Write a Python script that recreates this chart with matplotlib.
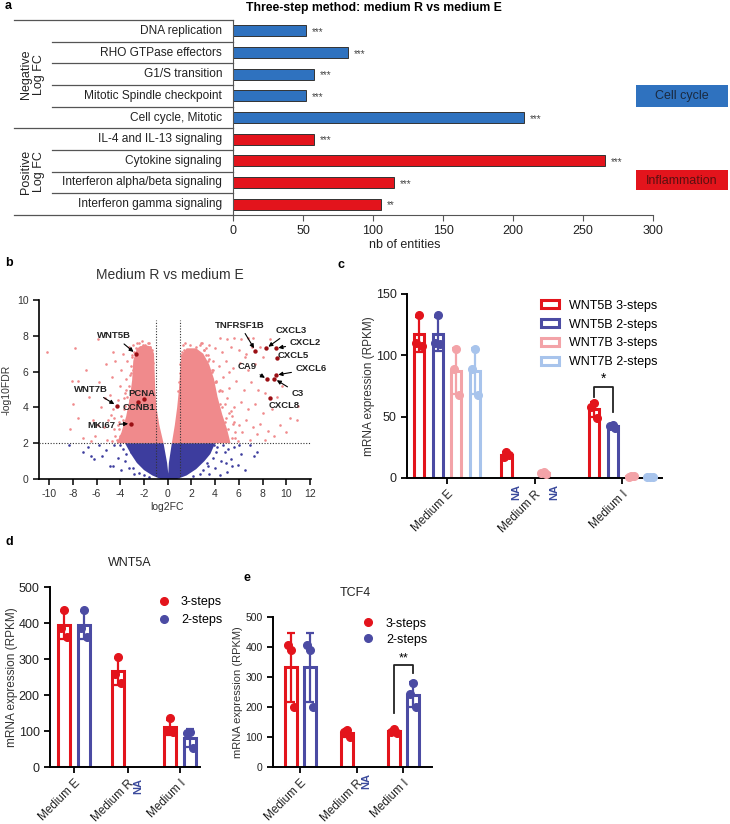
import numpy as np
import matplotlib
matplotlib.use('Agg')
import matplotlib.pyplot as plt
import matplotlib.transforms as mtransforms
from matplotlib.patches import Patch, Rectangle
from matplotlib.lines import Line2D

plt.rcParams['font.family'] = ['Liberation Sans', 'DejaVu Sans']
plt.rcParams['axes.unicode_minus'] = False

# ---------------- data: panel a (pathways)
path_names = ['DNA replication', 'RHO GTPase effectors', 'G1/S transition',
              'Mitotic Spindle checkpoint', 'Cell cycle, Mitotic',
              'IL-4 and IL-13 signaling', 'Cytokine signaling',
              'Interferon alpha/beta signaling', 'Interferon gamma signaling']
path_counts = [52, 82, 58, 52, 208, 58, 266, 115, 106]
path_stars = ['***'] * 8 + ['**']
path_sign = ['neg'] * 5 + ['pos'] * 4

# ---------------- data: panel b (volcano)
# dense cores (outlines of the solid clouds)
left_core_x = [-0.35, -0.7, -0.95, -1.05, -1.1, -1.15, -1.4, -2.0, -2.6, -2.9,
               -3.0, -3.2, -3.5, -3.9, -4.3]
left_core_y = [2.0, 3.0, 4.0, 5.0, 6.0, 7.0, 7.4, 7.5, 7.3, 6.6,
               5.5, 4.5, 3.5, 2.6, 2.0]
right_core_x = [0.35, 0.6, 0.8, 0.95, 1.05, 1.15, 1.6, 2.4, 3.0, 3.5,
                3.9, 4.2, 4.6, 5.0, 5.3]
right_core_y = [2.0, 3.0, 4.0, 5.0, 6.0, 6.9, 7.3, 7.3, 7.0, 6.4,
                5.6, 4.6, 3.6, 2.8, 2.0]
blue_core_x = [-3.6, -3.1, -2.6, -2.0, -1.3, -0.6, 0.8, 1.6, 2.4, 3.1,
               3.6, 4.0, 0.35, 0.1, 0.05, -0.05, -0.35]
blue_core_y = [2.0, 1.4, 0.9, 0.5, 0.2, 0.0, 0.0, 0.2, 0.55, 1.0,
               1.4, 2.0, 2.0, 0.9, 0.3, 0.9, 2.0]

pink_x = [-10.2, -7.8, -5.9, -8.1, -7.6, -8.0, -8.2, -7.6, -6.9, -6.6, -6.3, -6.1,
          -5.8, -5.6, -5.4, -5.2, -5.1, -4.9, -4.8, -4.7, -4.6, -4.5, -4.4, -4.2,
          -4.1, -4.0, -4.0, -3.9, -3.8, -3.7, -3.6, -3.5, -3.5, -3.4, -3.3, -3.3,
          -3.2, -3.2, -3.1, -3.0, -2.9, -2.6, -2.3, -1.9, -1.5, -3.0, -2.9, -3.6,
          -3.8, -4.3, -4.6, -5.0, -5.3, -5.9, -6.5, -7.1, -2.7, -2.4, -2.1, -1.7,
          4.4, 5.0, 5.6, 6.2, 6.8, 7.2, 8.6, 3.5, 4.0, 4.6, 5.3, 6.0,
          6.6, 7.8, 3.2, 3.8, 4.3, 4.9, 5.5, 6.1, 6.8, 7.4, 8.0, 3.6,
          4.1, 4.7, 5.2, 5.8, 6.4, 7.0, 7.6, 8.2, 9.6, 3.9, 4.4, 5.0,
          5.6, 6.2, 6.8, 7.4, 8.0, 8.8, 10.3, 10.9, 11.0, 4.2, 4.8, 5.4,
          6.0, 6.6, 7.2, 7.8, 8.5, 9.5, 4.5, 5.1, 5.7, 6.3, 6.9, 7.5,
          8.2, 9.0, 10.0, 2.8, 2.4, 1.9, 1.4, 3.0, 3.3, 3.6, 4.0, 4.3,
          5.2, 6.5, 7.1, 9.2, 3.4, 3.1, 2.9, 3.7, 4.6, 5.3, 1.1, 1.3,
          -4.4, -4.2, -3.9, -3.6, -3.4, -3.3, -3.2, -3.1, -3.0, -2.8,
          -4.7, -4.5, -4.1, -3.7, -2.2, -1.6, -1.3, -1.25, -2.9, -3.5,
          5.4, 5.7, 5.5, 4.9, 4.6, 4.3, 4.0, 3.7, 3.4, 3.2,
          5.9, 5.6, 5.2, 4.8, 4.4, 4.1, 3.8, 3.5, 3.1, 2.7,
          0.95, 1.0, 1.05, 1.1, 1.2, 0.9, 1.3, 1.5]
pink_y = [7.1, 7.3, 7.8, 5.5, 5.5, 4.2, 2.8, 3.4, 6.1, 4.6, 3.3, 2.4,
          5.4, 4.0, 2.9, 6.4, 2.2, 4.7, 3.6, 5.7, 7.1, 2.8, 6.6, 4.4,
          3.2, 5.2, 2.4, 6.1, 7.0, 3.9, 4.8, 2.2, 5.6, 6.6, 3.5, 7.4,
          4.4, 2.7, 5.9, 6.9, 7.5, 7.6, 7.4, 7.5, 7.4, 3.0, 5.2, 2.9,
          3.3, 2.2, 3.9, 3.3, 4.5, 3.0, 2.1, 2.3, 7.3, 7.6, 7.5, 7.6,
          7.9, 7.8, 7.9, 7.8, 7.9, 7.9, 7.8, 7.5, 7.3, 7.1, 7.4, 7.2,
          7.0, 7.4, 6.9, 6.6, 6.3, 6.6, 6.2, 6.5, 6.1, 6.4, 6.8, 5.8,
          5.4, 5.7, 5.1, 5.5, 5.0, 5.4, 5.0, 4.8, 5.2, 4.6, 4.2, 4.5,
          4.0, 4.3, 3.9, 4.2, 3.7, 3.9, 3.4, 3.3, 4.1, 3.6, 3.2, 3.5,
          3.0, 3.3, 2.9, 3.1, 2.7, 3.0, 2.5, 2.8, 2.3, 2.6, 2.2, 2.5,
          2.2, 2.4, 2.6, 7.6, 7.4, 7.5, 7.2, 6.2, 5.3, 4.1, 3.0, 2.1,
          6.0, 6.8, 7.4, 4.6, 6.9, 7.2, 7.6, 6.1, 4.9, 3.8, 5.6, 6.4,
          2.4, 3.0, 3.5, 4.1, 4.6, 5.2, 5.8, 6.3, 6.8, 7.1,
          2.1, 3.4, 2.8, 4.5, 7.7, 7.6, 7.2, 6.5, 6.1, 5.0,
          2.3, 2.6, 3.1, 3.4, 4.0, 4.9, 5.4, 6.0, 6.6, 7.3,
          2.1, 3.2, 3.7, 4.2, 5.0, 5.5, 6.1, 6.7, 7.2, 7.5,
          5.4, 5.9, 6.4, 6.9, 7.1, 4.9, 7.5, 7.6]
blue_x = [-6.7, -6.2, -4.9, -7.1, -6.5, -5.5, -4.6, -5.8, -5.2, -4.5, -4.2, -3.9,
          -3.8, -3.6, -3.3, -3.1, -2.8, -8.3, -4.0, -3.5,
          3.8, 4.0, 4.2, 4.5, 4.8, 5.0, 5.3, 5.6, 5.9, 6.2, 6.5, 6.9,
          7.3, 7.5, 3.5, 4.4, 3.9, 4.7, 5.4, 3.3, 6.0, 4.1, 4.9, 5.1,
          -2.9, -2.4, -2.0, -1.6, 2.1, 2.7, 3.0, 3.4]
blue_y = [1.8, 1.1, 0.7, 1.5, 1.3, 1.3, 0.7, 1.9, 1.6, 1.9, 1.2, 0.5,
          1.7, 1.0, 0.6, 1.5, 0.3, 1.9, 1.9, 1.4,
          1.2, 0.6, 1.8, 1.0, 1.5, 0.4, 1.1, 1.8, 0.8, 1.4, 0.5, 1.9,
          1.3, 1.5, 0.3, 0.2, 1.9, 1.9, 0.7, 0.9, 1.9, 1.5, 0.9, 1.7,
          0.6, 0.35, 0.2, 0.1, 0.15, 0.3, 0.5, 0.7]

genes = ['WNT5B', 'WNT7B', 'MKI67', 'PCNA', 'CCNB1', 'TNFRSF1B', 'CXCL3',
         'CXCL2', 'CXCL5', 'CXCL6', 'CA9', 'C3', 'CXCL8']
gene_fc = [-2.7, -4.3, -3.1, -2.0, -2.5, 7.4, 8.3, 9.1, 9.2, 9.1, 8.4, 9.0, 8.6]
gene_fdr = [7.0, 4.1, 3.1, 4.45, 4.3, 7.17, 7.3, 7.3, 6.75, 5.8, 5.57, 5.6, 4.5]
gene_text_x = [-4.5, -6.5, -5.6, -2.2, -2.4, 6.1, 10.4, 11.6, 10.6, 12.1, 6.7, 10.95, 9.85]
gene_text_y = [8.0, 5.0, 3.0, 4.8, 3.97, 8.6, 8.3, 7.6, 6.9, 6.15, 6.27, 4.8, 4.13]
gene_arrow = [True, True, True, False, False, True, True, True, False, True, True, True, False]

# ---------------- data: panel c (WNT5B / WNT7B)
c_groups = ['Medium E', 'Medium R', 'Medium I']
c_series = ['WNT5B 3-steps', 'WNT5B 2-steps', 'WNT7B 3-steps', 'WNT7B 2-steps']
wnt5b_3 = [[133, 110, 108], [21, 17, 19], [61, 58, 49]]
wnt5b_2 = [[133, 110, 109], None, [43, 42, 41]]
wnt7b_3 = [[105, 89, 68], [5, 4, 3], [2, 1, 2]]
wnt7b_2 = [[105, 89, 68], None, [1, 1, 0.5]]

# ---------------- data: panels d / e
de_groups = ['Medium E', 'Medium R', 'Medium I']
wnt5a_3 = [[437, 385, 362], [306, 258, 232], [135, 100, 97]]
wnt5a_2 = [[437, 385, 362], None, [97, 95, 53]]
tcf4_3 = [[390, 408, 200], [125, 118, 100], [128, 118, 115]]
tcf4_2 = [[390, 408, 200], None, [281, 243, 201]]

# ---------------- colours
RED = '#e3141c'
NAVY = '#4b4ba3'
PINK = '#f3a3a8'
LBLUE = '#a8c4ec'
ABLUE = '#2f72bf'
V_PINK = '#f08a8c'
V_BLUE = '#3d3d9e'
V_DARK = '#9a0f14'
NA_COL = '#3b4a9c'

W, H = 730, 824
fig = plt.figure(figsize=(W / 100, H / 100), dpi=100)


def px_axes(l, t, r, b):
    return fig.add_axes([l / W, 1 - b / H, (r - l) / W, (b - t) / H])


def ftext(x, y, s, **kw):
    fig.text(x / W, 1 - y / H, s, **kw)


# ================= panel a
ax = px_axes(233, 20, 653, 215)
rows = np.arange(len(path_names))
cols = [ABLUE if s == 'neg' else RED for s in path_sign]
ax.barh(rows, path_counts, height=0.52, color=cols, edgecolor='#333333', lw=0.7)
for i, (v, st) in enumerate(zip(path_counts, path_stars)):
    ax.text(v + 4, i + 0.05, st, va='center', ha='left', fontsize=7, color='#444444')
ax.set_ylim(8.5, -0.5)
ax.set_xlim(0, 300)
ax.set_xticks(range(0, 301, 50))
ax.tick_params(axis='x', labelsize=9, length=4, color='#555555', labelcolor='#222222')
ax.set_yticks([])
for s in ['top', 'right']:
    ax.spines[s].set_visible(False)
ax.spines['left'].set_color('#555555')
ax.spines['bottom'].set_color('#555555')
tr = mtransforms.blended_transform_factory(ax.transAxes, ax.transData)
for b in np.arange(-0.5, 9, 1.0):
    x0 = -0.522 if b in (-0.5, 4.5, 8.5) else -0.43
    ax.plot([x0, 0], [b, b], transform=tr, color='#555555', lw=0.9, clip_on=False)
for i, name in enumerate(path_names):
    ax.text(-0.026, i, name, transform=tr, ha='right', va='center', fontsize=8.6, color='#222222')
ax.text(-0.478, 2.0, 'Negative\nLog FC', transform=tr, rotation=90, ha='center', va='center',
        fontsize=9, linespacing=1.1, color='#222222')
ax.text(-0.478, 6.5, 'Positive\nLog FC', transform=tr, rotation=90, ha='center', va='center',
        fontsize=9, linespacing=1.1, color='#222222')
ax.set_xlabel('nb of entities', fontsize=9, color='#222222')
ax.xaxis.set_label_coords(0.41, -0.125)
ftext(374, 8, 'Three-step method: medium R vs medium E', ha='center', va='center',
      fontsize=8.8, fontweight='bold')
ftext(5, 6, 'a', fontsize=9, fontweight='bold', va='center')
fig.patches.append(Rectangle((636 / W, 1 - 107 / H), 92 / W, 22 / H, transform=fig.transFigure,
                             facecolor=ABLUE, edgecolor='none'))
ftext(682, 96, 'Cell cycle', ha='center', va='center', fontsize=9, color='#1a2a40')
fig.patches.append(Rectangle((636 / W, 1 - 190 / H), 92 / W, 20 / H, transform=fig.transFigure,
                             facecolor=RED, edgecolor='none'))
ftext(682, 181, 'Inflammation', ha='center', va='center', fontsize=9, color='#5a1010')

# ================= panel b
ax = px_axes(39, 300, 310.6, 479)
ax.fill(blue_core_x, blue_core_y, color=V_BLUE, lw=0, zorder=1)
ax.fill(left_core_x, left_core_y, color=V_PINK, lw=0, zorder=1)
ax.fill(right_core_x, right_core_y, color=V_PINK, lw=0, zorder=1)
ax.scatter(pink_x, pink_y, s=3.5, color=V_PINK, lw=0, zorder=2)
ax.scatter(blue_x, blue_y, s=3.5, color=V_BLUE, lw=0, zorder=2)
ax.plot([-1, -1], [0, 8.9], ls=(0, (1, 1.5)), color='#333333', lw=0.8, zorder=3)
ax.plot([1, 1], [0, 8.9], ls=(0, (1, 1.5)), color='#333333', lw=0.8, zorder=3)
ax.axhline(2, ls=(0, (1, 1.5)), color='#333333', lw=0.8, zorder=3)
ax.scatter(gene_fc, gene_fdr, s=10, color=V_DARK, lw=0, zorder=4)
for g, gx, gy, tx, ty, arr in zip(genes, gene_fc, gene_fdr, gene_text_x, gene_text_y, gene_arrow):
    if arr:
        ax.annotate(g, xy=(gx, gy), xytext=(tx, ty), ha='center', va='center', fontsize=6.8,
                    fontweight='bold', color='#222222', zorder=5,
                    arrowprops=dict(arrowstyle='-|>', color='black', lw=0.8,
                                    mutation_scale=6, shrinkA=1, shrinkB=2))
    else:
        ax.text(tx, ty, g, ha='center', va='center', fontsize=6.8, fontweight='bold',
                color='#222222', zorder=5)
ax.set_xlim(-10.85, 12.05)
ax.set_ylim(0, 10)
ax.set_xticks(range(-10, 13, 2))
ax.set_yticks(range(0, 11, 2))
for s in ['top', 'right']:
    ax.spines[s].set_visible(False)
for s in ['left', 'bottom']:
    ax.spines[s].set_linewidth(1.2)
ax.tick_params(labelsize=7.5, length=4, width=1.1, labelcolor='#333333')
ax.set_xlabel('log2FC', fontsize=7.5, color='#333333')
ax.xaxis.set_label_coords(0.47, -0.13)
ax.set_ylabel('-log10FDR', fontsize=7.5, color='#333333')
ax.yaxis.set_label_coords(-0.1, 0.5)
ftext(170, 275, 'Medium R vs medium E', ha='center', va='center', fontsize=10, color='#333333')
ftext(5, 263, 'b', fontsize=9, fontweight='bold', va='center')


# ================= helper for bar/dot panels
def dot_bar(ax, x, pts, col, width, lw=2.0, ms=5):
    pts = np.array(pts, dtype=float)
    m = pts.mean()
    sd = pts.std(ddof=1)
    ax.bar(x, m, width=width, facecolor='white', edgecolor=col, lw=lw, zorder=2)
    ax.errorbar(x, m, yerr=sd, fmt='none', ecolor=col, elinewidth=1.6, capsize=3,
                capthick=1.6, zorder=3)
    jit = [0, -0.14, 0.14]
    ax.plot(x + np.array(jit[:len(pts)]) * width / 0.55, pts, 'o', color=col, ms=ms,
            mec=col, zorder=4, clip_on=False)


def style_axes(ax, ysize=9):
    for s in ['top', 'right']:
        ax.spines[s].set_visible(False)
    for s in ['left', 'bottom']:
        ax.spines[s].set_linewidth(1.4)
    ax.tick_params(length=4, width=1.3, labelsize=ysize, labelcolor='#222222')


# ================= panel c
ax = px_axes(407, 294, 662, 478)
c_pos = [0, 4.68, 9.36]
c_data = [wnt5b_3, wnt5b_2, wnt7b_3, wnt7b_2]
c_cols = [RED, NAVY, PINK, LBLUE]
offs = [-1.5, -0.5, 0.5, 1.5]
na_shift = -0.45
trc = mtransforms.blended_transform_factory(ax.transData, ax.transAxes)
for si, (data, col) in enumerate(zip(c_data, c_cols)):
    for gi, pts in enumerate(data):
        x = c_pos[gi] + offs[si]
        if pts is None:
            ax.text(x + na_shift, -0.03, 'NA', transform=trc, rotation=90, ha='center', va='top',
                    fontsize=8, fontweight='bold', color=NA_COL)
        else:
            dot_bar(ax, x, pts, col, 0.55, lw=2.2, ms=5.5)
ax.set_xlim(-2.14, 11.5)
ax.set_ylim(0, 150)
ax.set_yticks([0, 50, 100, 150])
ax.set_xticks(c_pos)
ax.set_xticklabels(c_groups, rotation=45, ha='right', rotation_mode='anchor')
style_axes(ax)
ax.tick_params(axis='x', labelsize=8.5)
ax.set_ylabel('mRNA expression (RPKM)', fontsize=8.5, color='#333333')
ax.yaxis.set_label_coords(-0.125, 0.5)
x1, x2 = c_pos[2] + offs[0], c_pos[2] + offs[1]
ax.plot([x1, x1, x2, x2], [66, 74, 74, 54], color='#222222', lw=1.3, zorder=5)
ax.text((x1 + x2) / 2, 75, '*', ha='center', va='bottom', fontsize=10)
handles = [Patch(facecolor='white', edgecolor=c, lw=2.2, label=l) for c, l in zip(c_cols, c_series)]
ax.legend(handles=handles, loc='upper left', bbox_to_anchor=(0.48, 1.03), frameon=False,
          fontsize=9, handlelength=1.5, handleheight=0.6, labelspacing=0.55, handletextpad=0.8)
ftext(337, 265, 'c', fontsize=9, fontweight='bold', va='center')


# ================= panels d and e
def de_panel(box, pos, d3, d2, ymax, title, title_xy, xlim, lab_x, leg_anchor, na_y,
             ysize=9, labsize=8.5, lspace=0.45):
    ax = px_axes(*box)
    tr = mtransforms.blended_transform_factory(ax.transData, ax.transAxes)
    for gi in range(3):
        dot_bar(ax, pos[gi] - 0.5, d3[gi], RED, 0.62, lw=2.2, ms=5.5)
        if d2[gi] is None:
            ax.text(pos[gi] + 0.5, na_y, 'NA', transform=tr, rotation=90, ha='center', va='top',
                    fontsize=8, fontweight='bold', color=NA_COL)
        else:
            dot_bar(ax, pos[gi] + 0.5, d2[gi], NAVY, 0.62, lw=2.2, ms=5.5)
    ax.set_xlim(*xlim)
    ax.set_ylim(0, ymax)
    ax.set_yticks(range(0, ymax + 1, 100))
    ax.set_xticks(pos)
    ax.set_xticklabels(de_groups, rotation=45, ha='right', rotation_mode='anchor')
    style_axes(ax, ysize)
    ax.tick_params(axis='x', labelsize=8.5)
    ax.set_ylabel('mRNA expression (RPKM)', fontsize=labsize, color='#333333')
    ax.yaxis.set_label_coords(lab_x, 0.5)
    handles = [Line2D([], [], ls='none', marker='o', color=RED, ms=5.5, label='3-steps'),
               Line2D([], [], ls='none', marker='o', color=NAVY, ms=5.5, label='2-steps')]
    ax.legend(handles=handles, loc='upper left', bbox_to_anchor=leg_anchor, frameon=False,
              fontsize=9, handlelength=1.0, labelspacing=lspace, handletextpad=0.9)
    ftext(title_xy[0], title_xy[1], title, ha='center', va='center', fontsize=9, color='#222222')
    return ax


de_panel((50, 587, 200, 767), [0, 2.7, 5.3], wnt5a_3, wnt5a_2, 500, 'WNT5A', (130, 563),
         (-1.2, 6.3), -0.213, (0.64, 1.01), -0.06)
ftext(5, 542, 'd', fontsize=9, fontweight='bold', va='center')

ax = de_panel((273, 617, 432, 767), [0, 2.9, 5.3], tcf4_3, tcf4_2, 500, 'TCF4', (355, 593),
              (-1.41, 6.77), -0.19, (0.49, 1.07), -0.04, ysize=7.5, labsize=8, lspace=0.3)
x1, x2 = 5.3 - 0.5, 5.3 + 0.5
ax.plot([x1, x1, x2, x2], [180, 340, 340, 313], color='#222222', lw=1.3, zorder=5)
ax.text((x1 + x2) / 2, 342, '**', ha='center', va='bottom', fontsize=9)
ftext(243, 578, 'e', fontsize=9, fontweight='bold', va='center')

fig.savefig('out.png', dpi=100)
